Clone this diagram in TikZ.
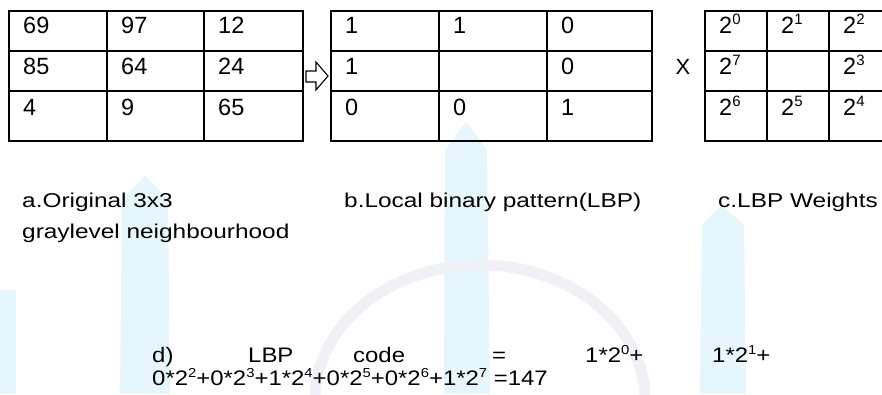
\documentclass[tikz,border=0pt]{standalone}
\usepackage{fontspec}
\setmainfont{Liberation Sans}
\newfontfamily\lblfont[FakeStretch=1.22]{Liberation Sans}
\newfontfamily\eqfont[FakeStretch=1.14]{Liberation Sans}
\definecolor{wmblue}{RGB}{230,246,253}
\definecolor{wmgray}{RGB}{240,240,247}
\newcommand\tsup[1]{\raisebox{9pt}{\fontsize{15}{15}\selectfont #1}}
\newcommand\esup[1]{\raisebox{8pt}{\fontsize{13}{13}\selectfont #1}}
\begin{document}
\begin{tikzpicture}[x=1pt,y=-1pt,
  grid/.style={line width=1.8pt},
  cell/.style={anchor=base west,inner sep=0pt,font=\fontsize{23.5}{28}\selectfont},
  lbl/.style={anchor=base west,inner sep=0pt,font=\lblfont\fontsize{20}{24}\selectfont},
  eq/.style={anchor=base west,inner sep=0pt,font=\eqfont\fontsize{21}{25}\selectfont}]
\useasboundingbox (0,0) rectangle (882,394);
\clip (0,0) rectangle (882,394);
% faint watermark
\fill[wmblue] (0,290) rectangle (16,394);
\fill[wmblue] (120,394) -- (122,200) -- (145,175) -- (168,200) -- (170,394) -- cycle;
\fill[wmblue] (444,394) -- (445,150) -- (466,122) -- (487,150) -- (490,394) -- cycle;
\fill[wmblue] (700,394) -- (702,225) -- (722,205) -- (744,225) -- (746,394) -- cycle;
\draw[wmgray, line width=11pt] (315,400) arc[start angle=180, end angle=360, x radius=165, y radius=135];
% table a
\draw[grid] (9,11) rectangle (303,141)
  (107,11) -- (107,141) (204,11) -- (204,141)
  (9,51) -- (303,51) (9,91) -- (303,91);
% table b
\draw[grid] (331,11) rectangle (652,141)
  (439,11) -- (439,141) (547,11) -- (547,141)
  (331,51) -- (652,51) (331,91) -- (652,91);
% table c (cut off on the right)
\draw[grid] (705,11) rectangle (891,141)
  (767,11) -- (767,141) (829,11) -- (829,141)
  (705,51) -- (891,51) (705,91) -- (891,91);
% table a values
\node[cell] (a11) at (23,33.5) {69};
\node[cell] (a12) at (121,33.5) {97};
\node[cell] (a13) at (218,33.5) {12};
\node[cell] (a21) at (23,74) {85};
\node[cell] (a22) at (121,74) {64};
\node[cell] (a23) at (218,74) {24};
\node[cell] (a31) at (23,115.5) {4};
\node[cell] (a32) at (121,115.5) {9};
\node[cell] (a33) at (218,115.5) {65};
% table b values
\node[cell] (b11) at (345,33.5) {1};
\node[cell] (b12) at (453,33.5) {1};
\node[cell] (b13) at (561,33.5) {0};
\node[cell] (b21) at (345,74) {1};
\node[cell] (b23) at (561,74) {0};
\node[cell] (b31) at (345,115.5) {0};
\node[cell] (b32) at (453,115.5) {0};
\node[cell] (b33) at (561,115.5) {1};
% table c values
\node[cell] (c11) at (719,33.5) {2\tsup{0}};
\node[cell] (c12) at (781,33.5) {2\tsup{1}};
\node[cell] (c13) at (843,33.5) {2\tsup{2}};
\node[cell] (c21) at (719,74) {2\tsup{7}};
\node[cell] (c23) at (843,74) {2\tsup{3}};
\node[cell] (c31) at (719,115.5) {2\tsup{6}};
\node[cell] (c32) at (781,115.5) {2\tsup{5}};
\node[cell] (c33) at (843,115.5) {2\tsup{4}};
% arrow and multiply sign
\draw[line width=1.1pt] (306,71) -- (316,71) -- (316,62) -- (328,76) -- (316,90) -- (316,82) -- (306,82) -- cycle;
\node[inner sep=0pt,font=\fontsize{22}{26}\selectfont] (times) at (683,67) {X};
% captions
\node[lbl] (capa1) at (22,207) {a.Original 3x3};
\node[lbl] (capa2) at (22,238) {graylevel neighbourhood};
\node[lbl] (capb) at (344,207) {b.Local binary pattern(LBP)};
\node[lbl] (capc) at (718,207) {c.LBP Weights};
% LBP code
\node[eq] (d1) at (152,362) {d)};
\node[eq] (d2) at (248,362) {LBP};
\node[eq] (d3) at (353,362) {code};
\node[eq] (d4) at (492,362) {=};
\node[eq] (d5) at (585,362) {1*2\esup{0}+};
\node[eq] (d6) at (712,362) {1*2\esup{1}+};
\node[eq] (d7) at (152,385) {0*2\esup{2}+0*2\esup{3}+1*2\esup{4}+0*2\esup{5}+0*2\esup{6}+1*2\esup{7} =147};
\end{tikzpicture}
\end{document}
